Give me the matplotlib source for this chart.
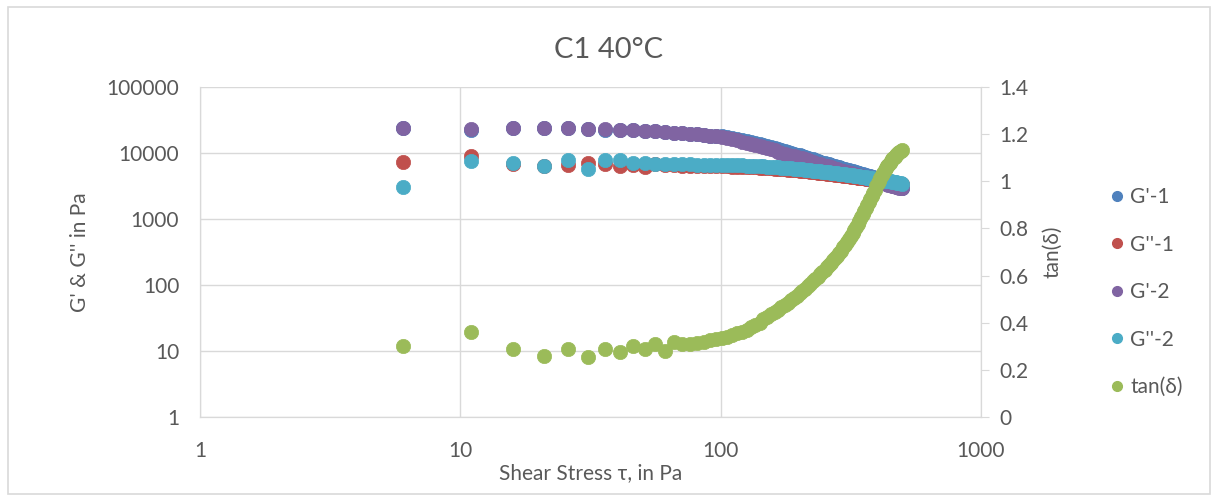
#!/usr/bin/env python3
"""Amplitude sweep plot: storage/loss modulus and tan(delta) vs shear stress, sample C1 at 40 C."""

import matplotlib
matplotlib.use("Agg")
import matplotlib.pyplot as plt
from matplotlib.lines import Line2D
from matplotlib.patches import Rectangle
from matplotlib.ticker import FixedLocator, FixedFormatter, NullLocator

# shear stress tau, Pa
stress = [6, 11, 16, 21, 26, 31, 36, 41, 46, 51,
          56, 61, 66, 71, 76, 81, 86, 91, 96, 101,
          106, 111, 116, 121, 126, 131, 136, 141, 146, 151,
          156, 161, 166, 171, 176, 181, 186, 191, 196, 201,
          206, 211, 216, 221, 226, 231, 236, 241, 246, 251,
          256, 261, 266, 271, 276, 281, 286, 291, 296, 301,
          306, 311, 316, 321, 326, 331, 336, 341, 346, 351,
          356, 361, 366, 371, 376, 381, 386, 391, 396, 401,
          406, 411, 416, 421, 426, 431, 436, 441, 446, 451,
          456, 461, 466, 471, 476, 481, 486, 491, 496]

# G'-1, Pa
g_store_1 = [23600, 22600, 23700, 23700, 23600, 23100, 22700, 22400, 22200, 21800,
             21300, 20900, 20400, 20000, 19600, 19200, 18800, 18400, 18100, 17900,
             17400, 16800, 16200, 15700, 15200, 14700, 14100, 13600, 13200, 12700,
             12400, 12000, 11400, 11000, 10600, 10300, 9940, 9710, 9490, 9280,
             9000, 8740, 8480, 8230, 7990, 7750, 7540, 7340, 7170, 7010,
             6850, 6700, 6570, 6420, 6290, 6160, 6030, 5920, 5810, 5710,
             5600, 5500, 5400, 5300, 5210, 5110, 5010, 4940, 4860, 4780,
             4710, 4630, 4560, 4480, 4410, 4340, 4270, 4190, 4130, 4060,
             3990, 3920, 3860, 3800, 3740, 3680, 3620, 3560, 3500, 3440,
             3390, 3330, 3280, 3230, 3180, 3130, 3080, 3030, 2980]

# G''-1, Pa
g_loss_1 = [7300, 8900, 6900, 6300, 6600, 7000, 6700, 6300, 6500, 6200,
            6900, 6600, 6500, 6450, 6400, 6350, 6320, 6300, 6280, 6270,
            6250, 6220, 6190, 6170, 6130, 6090, 6050, 6010, 5970, 5920,
            5870, 5820, 5770, 5720, 5660, 5610, 5560, 5510, 5450, 5410,
            5360, 5300, 5250, 5210, 5160, 5110, 5060, 5020, 4970, 4920,
            4870, 4830, 4790, 4740, 4700, 4660, 4620, 4580, 4540, 4500,
            4470, 4430, 4390, 4350, 4310, 4280, 4240, 4200, 4170, 4130,
            4110, 4080, 4040, 4010, 3980, 3950, 3910, 3880, 3860, 3830,
            3800, 3770, 3740, 3710, 3690, 3660, 3630, 3600, 3580, 3550,
            3520, 3500, 3470, 3450, 3430, 3400, 3380, 3360, 3340]

# G'-2, Pa
g_store_2 = [23900, 22900, 24000, 24000, 23900, 23400, 22900, 22600, 22400, 21900,
             21400, 20900, 20400, 20000, 19500, 19100, 18600, 18200, 17800, 17400,
             16800, 16200, 15500, 14800, 14300, 13800, 13200, 12600, 12200, 11700,
             11400, 11000, 10500, 10100, 9770, 9440, 9120, 8910, 8710, 8510,
             8260, 8020, 7780, 7550, 7330, 7110, 6920, 6730, 6580, 6430,
             6280, 6150, 6030, 5890, 5770, 5650, 5530, 5430, 5330, 5240,
             5140, 5050, 4950, 4860, 4780, 4690, 4600, 4530, 4460, 4390,
             4320, 4250, 4180, 4110, 4050, 3980, 3920, 3850, 3790, 3730,
             3680, 3620, 3570, 3520, 3480, 3430, 3380, 3330, 3290, 3240,
             3210, 3160, 3130, 3090, 3050, 3020, 2990, 2950, 2920]

# G''-2, Pa
g_loss_2 = [3040, 7600, 7000, 6300, 7700, 5800, 7800, 7800, 7100, 7000,
            6900, 6850, 6800, 6750, 6700, 6650, 6630, 6610, 6600, 6600,
            6580, 6550, 6520, 6490, 6450, 6410, 6370, 6330, 6280, 6230,
            6180, 6130, 6070, 6020, 5960, 5910, 5850, 5800, 5740, 5690,
            5640, 5580, 5530, 5480, 5430, 5380, 5330, 5280, 5230, 5180,
            5130, 5080, 5040, 4990, 4950, 4900, 4860, 4820, 4780, 4740,
            4700, 4660, 4620, 4580, 4540, 4500, 4460, 4420, 4390, 4350,
            4310, 4280, 4240, 4210, 4170, 4140, 4100, 4070, 4040, 4000,
            3970, 3940, 3910, 3880, 3850, 3820, 3790, 3760, 3730, 3700,
            3670, 3640, 3610, 3580, 3560, 3530, 3500, 3480, 3450]

tan_delta = [0.30, 0.36, 0.29, 0.26, 0.29, 0.255, 0.29, 0.275, 0.30, 0.29,
             0.31, 0.28, 0.32, 0.31, 0.31, 0.315, 0.32, 0.325, 0.33, 0.335,
             0.34, 0.35, 0.355, 0.36, 0.37, 0.38, 0.39, 0.40, 0.415, 0.425,
             0.435, 0.445, 0.455, 0.465, 0.475, 0.485, 0.495, 0.505, 0.515, 0.525,
             0.535, 0.545, 0.555, 0.565, 0.575, 0.585, 0.595, 0.605, 0.615, 0.625,
             0.635, 0.645, 0.655, 0.665, 0.675, 0.685, 0.695, 0.705, 0.72, 0.73,
             0.742, 0.754, 0.767, 0.78, 0.793, 0.806, 0.819, 0.833, 0.847, 0.861,
             0.875, 0.888, 0.90, 0.913, 0.926, 0.939, 0.952, 0.965, 0.978, 0.991,
             1.003, 1.015, 1.026, 1.036, 1.046, 1.055, 1.063, 1.071, 1.079, 1.086,
             1.093, 1.099, 1.105, 1.111, 1.116, 1.121, 1.126, 1.13, 1.134]

labels = ["G'-1", "G''-1", "G'-2", "G''-2", "tan(δ)"]
colors = ["#4F81BD", "#C0504D", "#8064A2", "#4BACC6", "#9BBB59"]

left_ticks = [1, 10, 100, 1000, 10000, 100000]
right_ticks = [0, 0.2, 0.4, 0.6, 0.8, 1.0, 1.2, 1.4]
right_tick_labels = ["0", "0.2", "0.4", "0.6", "0.8", "1", "1.2", "1.4"]
x_ticks = [1, 10, 100, 1000]

TXT = "#595959"
GRID = "#D9D9D9"
plt.rcParams["font.family"] = ["Lato", "DejaVu Sans"]

fig = plt.figure(figsize=(12.17, 4.98), dpi=100)
ax = fig.add_axes([200 / 1217, 1 - 417 / 498, 781 / 1217, 330 / 498])
ax2 = ax.twinx()

ms = 10.3
for vals, col in zip([g_store_1, g_loss_1, g_store_2, g_loss_2], colors[:4]):
    ax.plot(stress, vals, "o", ms=ms, color=col, mec=col, mew=0.5)
ax2.plot(stress, tan_delta, "o", ms=ms, color=colors[4], mec=colors[4], mew=0.5)

ax.set_xscale("log")
ax.set_yscale("log")
ax.set_xlim(1, 1000)
ax.set_ylim(1, 100000)
ax2.set_ylim(0, 1.4)

ax.xaxis.set_major_locator(FixedLocator(x_ticks))
ax.xaxis.set_major_formatter(FixedFormatter([str(t) for t in x_ticks]))
ax.xaxis.set_minor_locator(NullLocator())
ax.yaxis.set_major_locator(FixedLocator(left_ticks))
ax.yaxis.set_major_formatter(FixedFormatter([str(t) for t in left_ticks]))
ax.yaxis.set_minor_locator(NullLocator())
ax2.yaxis.set_major_locator(FixedLocator(right_ticks))
ax2.yaxis.set_major_formatter(FixedFormatter(right_tick_labels))

ax.grid(True, which="major", color=GRID, lw=1)
ax.set_axisbelow(True)
for a in (ax, ax2):
    for s in a.spines.values():
        s.set_color(GRID)
    a.spines["top"].set_visible(False)
ax.tick_params(axis="both", length=0, labelsize=15, labelcolor=TXT)
ax.tick_params(axis="x", pad=17)
ax.tick_params(axis="y", pad=15)
ax2.tick_params(axis="y", length=6, color=GRID, labelsize=15, labelcolor=TXT, pad=7)

ax.set_xlabel("Shear Stress τ, in Pa", fontsize=15, color=TXT, labelpad=2)
ax.set_ylabel("G' & G'' in Pa", fontsize=15, color=TXT, labelpad=12)
ax2.set_ylabel("tan(δ)", fontsize=15, color=TXT, labelpad=10)
fig.text(0.5, 1 - 50 / 498, "C1 40°C", ha="center", va="center", fontsize=21, color=TXT)

handles = [Line2D([], [], ls="none", marker="o", ms=7, color=c) for c in colors]
fig.legend(handles, labels, loc="center left", bbox_to_anchor=(1100 / 1217, 1 - 292 / 498),
           frameon=False, fontsize=15, labelcolor=TXT, handlelength=0.6,
           handletextpad=0.35, labelspacing=1.32, borderpad=0)

fig.patches.append(Rectangle((8 / 1217, 4 / 498), 1202 / 1217, 487 / 498, transform=fig.transFigure,
                             fill=False, edgecolor=GRID, lw=1.2))

fig.savefig("out.png", dpi=100)
